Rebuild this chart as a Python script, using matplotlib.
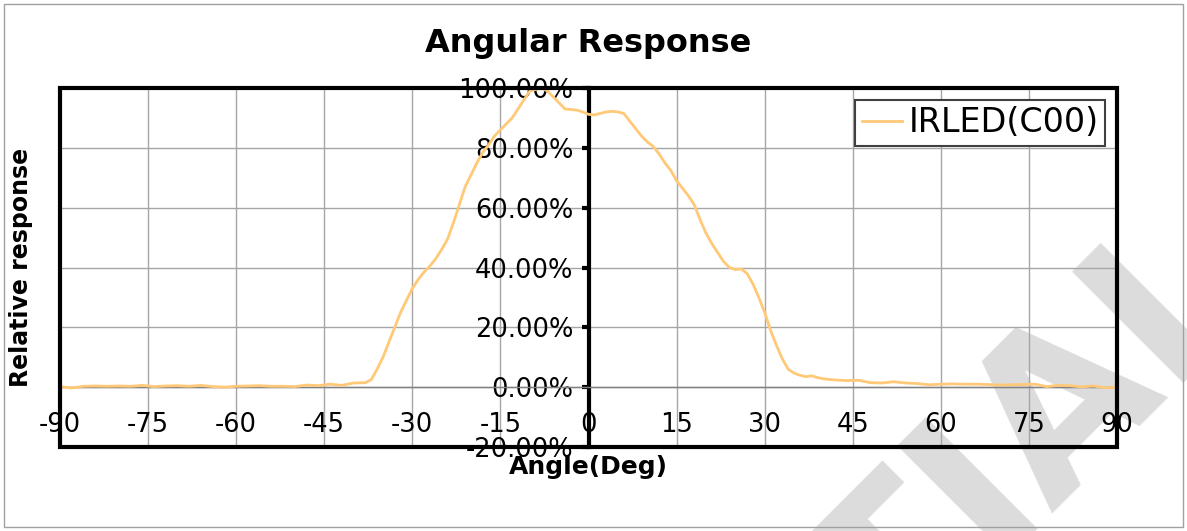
import numpy as np
import matplotlib.pyplot as plt
from matplotlib.patches import Rectangle
from matplotlib.ticker import FuncFormatter

plt.rcParams['axes.unicode_minus'] = False

# measured angular response (deg, %)
angle = [-90, -88, -86, -84, -82, -80, -78, -76, -74, -72, -70, -68, -66, -64, -62,
         -60, -58, -56, -54, -52, -50, -48, -46, -44, -42, -40, -38, -37, -36, -35,
         -34, -33, -32, -31, -30, -29, -28, -27, -26, -25, -24, -23, -22, -21, -20,
         -19, -18, -17, -16, -15, -14, -13, -12, -11, -10, -9, -8, -7, -6, -5,
         -4, -3, -2, -1, 0, 1, 2, 3, 4, 5, 6, 7, 8, 9, 10,
         11, 12, 13, 14, 15, 16, 17, 18, 19, 20, 21, 22, 23, 24, 25,
         26, 27, 28, 29, 30, 31, 32, 33, 34, 35, 36, 37, 38, 39, 40,
         42, 44, 46, 48, 50, 52, 54, 56, 58, 60, 62, 64, 66, 68, 70,
         72, 74, 76, 78, 80, 82, 84, 86, 88, 90]
response = [0.2, -0.3, 0.3, 0.4, 0.3, 0.4, 0.3, 0.6, 0.2, 0.4, 0.5, 0.3, 0.6, 0.2, 0.0,
            0.3, 0.4, 0.5, 0.3, 0.3, 0.2, 0.7, 0.5, 1.0, 0.6, 1.4, 1.5, 2.5, 6.0, 10.0,
            15.0, 20.0, 25.0, 29.0, 33.0, 36.0, 38.5, 40.5, 43.0, 46.0, 49.5, 55.0, 61.0, 67.0, 71.0,
            75.0, 78.5, 81.0, 84.0, 86.0, 88.0, 90.0, 93.0, 96.0, 99.0, 99.5, 100.0, 99.0, 97.0, 95.0,
            93.0, 92.8, 92.6, 92.0, 91.2, 91.0, 91.5, 92.0, 92.2, 92.0, 91.5, 89.0, 86.5, 84.0, 82.0,
            80.5, 78.0, 75.0, 72.5, 69.0, 66.5, 64.0, 61.0, 56.0, 51.5, 48.0, 45.0, 42.0, 40.0, 39.3,
            39.5, 38.0, 34.5, 30.0, 25.0, 19.0, 14.0, 9.5, 6.0, 4.7, 4.0, 3.5, 3.8, 3.2, 2.8,
            2.4, 2.2, 2.3, 1.5, 1.4, 1.8, 1.4, 1.2, 0.8, 1.0, 1.1, 1.0, 1.0, 0.9, 0.7,
            0.8, 0.9, 1.0, 0.2, 0.6, 0.5, 0.1, 0.4, -0.2, 0.0]

x_ticks = np.arange(-90, 91, 15)
y_ticks = np.arange(-20, 101, 20)

fig = plt.figure(figsize=(11.87, 5.31), dpi=100)
fig.patches.append(Rectangle((0.003, 0.008), 0.994, 0.984, transform=fig.transFigure,
                             fill=False, edgecolor='#a0a0a0', linewidth=1))

# watermark, only its tail shows in the corner
fig.text(1.065, 0.45, 'CONFIDENTIAL', fontsize=155, color='#dcdcdc', fontweight='bold',
         rotation=45, rotation_mode='anchor', ha='right', va='baseline', zorder=-1)

ax = fig.add_axes([60 / 1187, 1 - 447 / 531, 1057 / 1187, 359 / 531])
ax.patch.set_alpha(0)

ax.plot(angle, response, color='#ffc978', linewidth=2, label='IRLED(C00)', zorder=3)

ax.set_xlim(-90, 90)
ax.set_ylim(-20, 100)
ax.set_xticks(x_ticks)
ax.set_yticks(y_ticks)
ax.yaxis.set_major_formatter(FuncFormatter(lambda v, p: f'{v:.2f}%'))
ax.grid(True, color='#a6a6a6', linewidth=1)

ax.spines['left'].set_position(('data', 0))
ax.spines['left'].set_linewidth(3)
ax.spines['bottom'].set_position(('data', 0))
ax.spines['bottom'].set_color('#808080')
ax.spines['bottom'].set_linewidth(1)
ax.spines['right'].set_visible(False)
ax.spines['top'].set_visible(False)
ax.add_patch(Rectangle((0, 0), 1, 1, transform=ax.transAxes, fill=False,
                       edgecolor='black', linewidth=3, zorder=5, clip_on=False))

ax.tick_params(axis='y', direction='out', length=5, width=3, labelsize=18.5, pad=6)
ax.tick_params(axis='x', direction='inout', length=0, labelsize=18.5, pad=18)

ax.set_title('Angular Response', fontsize=23, fontweight='bold', pad=26)
ax.set_xlabel('Angle(Deg)', fontsize=18, fontweight='bold')
ax.xaxis.set_label_coords(0.5, -0.022)
ax.set_ylabel('Relative response', fontsize=17, fontweight='bold')
ax.yaxis.set_label_coords(-0.026, 0.5)

leg = ax.legend(loc='upper right', fontsize=24, fancybox=False, framealpha=1,
                edgecolor='#404040', handlelength=1.2, handletextpad=0.2,
                borderaxespad=0.35, borderpad=0.2)
leg.get_frame().set_linewidth(1.5)

plt.savefig('out.png', dpi=100)
